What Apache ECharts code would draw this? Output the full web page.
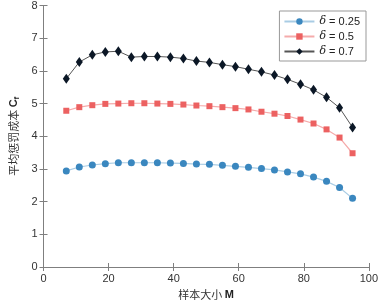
<!DOCTYPE html>
<html>
<head>
<meta charset="utf-8">
<script src="https://cdn.jsdelivr.net/npm/echarts@6/dist/echarts.min.js"></script>
<style>
  html, body { margin: 0; padding: 0; background: #fff; }
  #chart { width: 381px; height: 305px; }
</style>
</head>
<body>
<div id="chart"></div>
<script>
// sample size M
const sampleSize = [7, 11, 15, 19, 23, 27, 31, 35, 39, 43, 47, 51, 55, 59, 63, 67, 71, 75, 79, 83, 87, 91, 95];
const deltaNames = ['0.25', '0.5', '0.7'];
const cost025 = [2.94, 3.06, 3.12, 3.16, 3.19, 3.19, 3.19, 3.19, 3.18, 3.17, 3.15, 3.14, 3.11, 3.08, 3.05, 3.01, 2.97, 2.91, 2.85, 2.75, 2.62, 2.43, 2.10];
const cost05 = [4.78, 4.89, 4.95, 4.99, 5.00, 5.01, 5.01, 5.00, 4.99, 4.97, 4.94, 4.92, 4.89, 4.86, 4.82, 4.75, 4.69, 4.62, 4.51, 4.39, 4.21, 3.96, 3.48];
const cost07 = [5.76, 6.27, 6.49, 6.58, 6.60, 6.42, 6.44, 6.44, 6.42, 6.38, 6.30, 6.26, 6.19, 6.13, 6.05, 5.97, 5.87, 5.74, 5.59, 5.42, 5.19, 4.87, 4.27];

const pairs = (ys) => sampleSize.map((x, i) => [x, ys[i]]);
const axisGray = '#7f7f7f';
const font = 'Liberation Sans, Arial, sans-serif';

let myChart = echarts.init(document.getElementById('chart'));

const boxAxis = {
  type: 'value',
  axisLine: { show: true, lineStyle: { color: axisGray } },
  axisTick: { show: true, inside: true, length: 4, lineStyle: { color: axisGray } },
  axisLabel: { show: false },
  splitLine: { show: false }
};

myChart.setOption({
  animation: false,
  textStyle: { fontFamily: font },
  grid: { left: 32, right: 10, top: 5, bottom: 33 },
  legend: {
    right: 15,
    top: 11,
    orient: 'vertical',
    itemWidth: 30,
    itemHeight: 8,
    itemGap: 4,
    padding: [5, 6, 4, 4],
    borderColor: '#999',
    borderWidth: 1,
    backgroundColor: '#fff',
    textStyle: {
      fontSize: 11,
      color: '#222',
      rich: {
        d: { fontFamily: 'DejaVu Serif, serif', fontStyle: 'italic', fontSize: 11 }
      }
    },
    formatter: (name) => '{d|δ} = ' + name
  },
  xAxis: [{
    type: 'value',
    min: 0, max: 100, interval: 20,
    name: '{n|样本大小 }{b|M}',
    nameLocation: 'middle',
    nameGap: 22,
    nameTextStyle: {
      rich: {
        n: { fontFamily: 'Noto Sans CJK SC', fontSize: 11, color: '#333' },
        b: { fontFamily: font, fontSize: 11, fontWeight: 'bold', color: '#222' }
      }
    },
    axisLine: { show: true, lineStyle: { color: axisGray } },
    axisTick: { show: true, inside: true, length: 4, lineStyle: { color: axisGray } },
    axisLabel: { fontSize: 11, color: '#333', margin: 6 },
    splitLine: { show: false }
  }, Object.assign({ position: 'top', min: 0, max: 100, interval: 20 }, boxAxis)],
  yAxis: [{
    type: 'value',
    min: 0, max: 8, interval: 1,
    name: '{n|平均惩罚成本 }{b|C}{s|f}',
    nameLocation: 'middle',
    nameGap: 19,
    nameTextStyle: {
      rich: {
        n: { fontFamily: 'Noto Sans CJK SC', fontSize: 11, color: '#333' },
        b: { fontFamily: font, fontSize: 11, fontWeight: 'bold', color: '#222' },
        s: { fontFamily: font, fontSize: 8, fontWeight: 'bold', color: '#222', verticalAlign: 'bottom', padding: [6, 0, 0, 0] }
      }
    },
    axisLine: { show: true, lineStyle: { color: axisGray } },
    axisTick: { show: true, inside: true, length: 4, lineStyle: { color: axisGray } },
    axisLabel: { fontSize: 11, color: '#333', margin: 6 },
    splitLine: { show: false }
  }, Object.assign({ position: 'right', min: 0, max: 8, interval: 1 }, boxAxis)],
  series: [{
    name: deltaNames[0],
    type: 'line',
    data: pairs(cost025),
    symbol: 'circle',
    symbolSize: 7,
    itemStyle: { color: '#3a87bf' },
    lineStyle: { color: '#a9cce4', width: 1.2 }
  }, {
    name: deltaNames[1],
    type: 'line',
    data: pairs(cost05),
    symbol: 'rect',
    symbolSize: 6,
    itemStyle: { color: '#ec6161' },
    lineStyle: { color: '#f5abab', width: 1.2 }
  }, {
    name: deltaNames[2],
    type: 'line',
    data: pairs(cost07),
    symbol: 'diamond',
    symbolSize: [7, 10],
    itemStyle: { color: '#0b1726' },
    lineStyle: { color: '#555555', width: 1 }
  }]
});

window.addEventListener('resize', function() {
  myChart.resize();
});
</script>
</body>
</html>
